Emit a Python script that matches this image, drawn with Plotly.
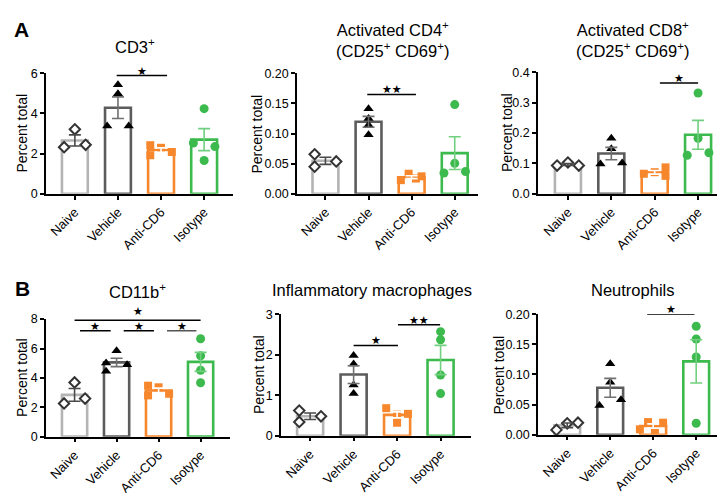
import numpy as np
import plotly.graph_objects as go

W, H = 725, 493
FONT = "Liberation Sans, Arial, sans-serif"

groups = ["Naive", "Vehicle", "Anti-CD6", "Isotype"]

# ---- data: individual animal values per group ----
cd3_naive = [2.32, 3.21, 2.44]
cd3_vehicle = [3.37, 5.43, 4.98, 3.37]
cd3_anti = [2.42, 1.92, 2.29, 2.08]
cd3_iso = [2.53, 4.24, 1.66, 2.35]

cd4_naive = [0.0656, 0.045, 0.0537]
cd4_vehicle = [0.141, 0.125, 0.114, 0.098]
cd4_anti = [0.0226, 0.0333, 0.0253, 0.029]
cd4_iso = [0.0344, 0.148, 0.0505, 0.037]

cd8_naive = [0.093, 0.103, 0.093]
cd8_vehicle = [0.098, 0.183, 0.148, 0.101]
cd8_anti = [0.066, 0.071, 0.087, 0.059]
cd8_iso = [0.127, 0.332, 0.183, 0.135]

cd11b_naive = [2.26, 3.69, 2.59]
cd11b_vehicle = [5.01, 4.46, 5.84, 4.90]
cd11b_anti = [3.47, 2.81, 3.36, 2.92]
cd11b_iso = [6.66, 5.51, 4.52, 3.67]

mac_naive = [0.62, 0.34, 0.48]
mac_vehicle = [1.98, 1.77, 1.25, 1.04]
mac_anti = [0.68, 0.52, 0.32, 0.54]
mac_iso = [2.57, 2.37, 1.50, 1.04]

neu_naive = [0.008, 0.019, 0.020]
neu_vehicle = [0.0486, 0.118, 0.087, 0.058]
neu_anti = [0.009, 0.021, 0.008, 0.020]
neu_iso = [0.180, 0.159, 0.129, 0.019]

titles = ["CD3<sup>+</sup>",
          "Activated CD4<sup>+</sup><br>(CD25<sup>+</sup> CD69<sup>+</sup>)",
          "Activated CD8<sup>+</sup><br>(CD25<sup>+</sup> CD69<sup>+</sup>)",
          "CD11b<sup>+</sup>", "Inflammatory macrophages", "Neutrophils"]

# significance comparisons: (from x, to x, y value, label)
sig_cd3 = [(0.97, 2.14, 5.89, "*")]
sig_cd4 = [(0.97, 2.1, 0.165, "**")]
sig_cd8 = [(2.12, 3.0, 0.365, "*")]
sig_cd11b = [(0.0, 3.0, 7.93, "*"), (0.13, 0.86, 7.2, "*"),
             (1.17, 1.89, 7.2, "*"), (2.2, 2.9, 7.2, "*")]
sig_mac = [(1.0, 2.02, 2.23, "*"), (2.02, 2.99, 2.74, "**")]
sig_neu = [(1.86, 2.96, 0.20, "*")]

# ---- layout / style constants ----
jit_L, jit_R = -0.25, 0.25
offsets = [
    [[jit_L, 0, jit_R], [jit_L, 0, 0, jit_R], [jit_L, jit_L, 0, jit_R], [jit_L, 0, 0, jit_R]],
    [[jit_L, jit_L, jit_R], [0, 0, 0, 0], [-0.25, -0.07, 0.1, 0.23], [jit_L, 0, 0, jit_R]],
    [[jit_L, 0, jit_R], [jit_L, 0, 0, jit_R], [jit_L, 0, jit_R, jit_R], [jit_L, 0, 0, jit_R]],
    [[jit_L, 0, jit_R], [jit_L, jit_L, 0, jit_R], [jit_L, jit_L, 0, jit_R], [0, 0, 0, 0]],
    [[jit_L, jit_L, jit_R], [0, 0, 0, 0], [jit_L, 0, 0, jit_R], [0, 0, 0, 0]],
    [[jit_L, 0, jit_R], [jit_L, 0, 0, jit_R], [-0.31, -0.12, 0.04, 0.23], [0, 0, 0, 0]],
]

panels = [
    dict(data=[cd3_naive, cd3_vehicle, cd3_anti, cd3_iso], sig=sig_cd3,
         xpx=(38, 225), xr=(-0.67, 3.67), ypx=(60, 184), yr=(0, 6), dt=2, fmt="d",
         tpos=(127, 32), ytx=14),
    dict(data=[cd4_naive, cd4_vehicle, cd4_anti, cd4_iso], sig=sig_cd4,
         xpx=(289, 470), xr=(-0.66, 3.54), ypx=(60, 184), yr=(0, 0.2), dt=0.05, fmt=".2f",
         tpos=(384, 25), ytx=249),
    dict(data=[cd8_naive, cd8_vehicle, cd8_anti, cd8_iso], sig=sig_cd8,
         xpx=(530, 720), xr=(-0.69, 3.69), ypx=(59, 184), yr=(0, 0.4), dt=0.1, fmt=".1f",
         tpos=(624, 25), ytx=499),
    dict(data=[cd11b_naive, cd11b_vehicle, cd11b_anti, cd11b_iso], sig=sig_cd11b,
         xpx=(38, 222), xr=(-0.68, 3.70), ypx=(313, 434), yr=(0, 8), dt=2, fmt="d",
         tpos=(129, 284), ytx=14),
    dict(data=[mac_naive, mac_vehicle, mac_anti, mac_iso], sig=sig_mac,
         xpx=(273, 463), xr=(-0.67, 3.70), ypx=(308, 433), yr=(0, 3), dt=1, fmt="d",
         tpos=(364, 283), ytx=251),
    dict(data=[neu_naive, neu_vehicle, neu_anti, neu_iso], sig=sig_neu,
         xpx=(530, 717), xr=(-0.68, 3.67), ypx=(308, 432), yr=(0, 0.2), dt=0.05, fmt=".2f",
         tpos=(624, 283), ytx=491),
]

bar_colors = ["#b4b4b4", "#5c5c5c", "#f7872c", "#3dba4e"]
err_colors = ["#4a4a4a", "#707070", "#ffffff", "#72cf7f"]
mk = [dict(symbol="diamond", size=8, color="white", line=dict(color="#333333", width=2)),
      dict(symbol="triangle-up", size=9, color="black", line=dict(width=0)),
      dict(symbol="square", size=8, color="#f7872c", line=dict(width=0)),
      dict(symbol="circle", size=9, color="#3dba4e", line=dict(width=0))]

fig = go.Figure()
layout = dict(width=W, height=H, margin=dict(l=0, r=0, t=0, b=0),
              paper_bgcolor="white", plot_bgcolor="white", showlegend=False,
              font=dict(family=FONT, color="black"))
annotations = []
shapes = []

for k, p in enumerate(panels):
    sfx = "" if k == 0 else str(k + 1)
    xa, ya = "x" + sfx, "y" + sfx
    means = [float(np.mean(v)) for v in p["data"]]
    sems = [float(np.std(v, ddof=1) / np.sqrt(len(v))) for v in p["data"]]
    fig.add_trace(go.Bar(x=[0, 1, 2, 3], y=means, width=0.6, xaxis=xa, yaxis=ya,
                         marker=dict(color="white", line=dict(color=bar_colors, width=2.6))))
    for g in range(4):
        vals = p["data"][g]
        xs = [g + o for o in offsets[k][g]]
        fig.add_trace(go.Scatter(x=xs, y=vals, mode="markers", marker=mk[g],
                                 cliponaxis=False, xaxis=xa, yaxis=ya))
    for g in range(4):
        fig.add_trace(go.Scatter(x=[g], y=[means[g]], mode="markers",
                                 marker=dict(size=1, color="rgba(0,0,0,0)"),
                                 error_y=dict(type="data", array=[sems[g]], visible=True,
                                              color=err_colors[g], thickness=1.6, width=6),
                                 cliponaxis=False, xaxis=xa, yaxis=ya))
    x0, x1 = p["xpx"]
    ytop, ybot = p["ypx"]
    ticks = list(np.arange(p["yr"][0], p["yr"][1] + p["dt"] / 2, p["dt"]))
    if p["fmt"] == "d":
        ttext = [f"{t:.0f}" for t in ticks]
    else:
        ttext = [format(t, p["fmt"]) for t in ticks]
    layout["xaxis" + sfx] = dict(domain=[x0 / W, x1 / W], range=list(p["xr"]),
                                 anchor=ya, tickmode="array", tickvals=[0, 1, 2, 3],
                                 ticktext=groups, tickangle=-45, showline=True,
                                 linecolor="black", linewidth=1.5, ticks="outside",
                                 ticklen=4, tickwidth=1.5, tickcolor="black",
                                 showgrid=False, zeroline=False,
                                 tickfont=dict(size=13, family=FONT, color="black"))
    layout["yaxis" + sfx] = dict(domain=[(H - ybot) / H, (H - ytop) / H], range=list(p["yr"]),
                                 anchor=xa, tickmode="array", tickvals=ticks, ticktext=ttext,
                                 showline=True, linecolor="black", linewidth=1.5,
                                 ticks="outside", ticklen=4, tickwidth=1.5, tickcolor="black",
                                 showgrid=False, zeroline=False,
                                 tickfont=dict(size=12.5, family=FONT, color="black"))
    annotations.append(dict(text=titles[k], x=p["tpos"][0] / W, y=(H - p["tpos"][1]) / H,
                            xref="paper", yref="paper", showarrow=False,
                            xanchor="center", yanchor="middle",
                            font=dict(size=16.5, family=FONT, color="black")))
    annotations.append(dict(text="Percent total", x=p["ytx"] / W,
                            y=(H - (ytop + ybot) / 2) / H, xref="paper", yref="paper",
                            showarrow=False, textangle=-90, xanchor="center", yanchor="middle",
                            font=dict(size=14, family=FONT, color="black")))
    for j, (a, b, yv, lab) in enumerate(p["sig"]):
        col = "#555555" if (k == 3 and a > 2) else "black"
        shapes.append(dict(type="line", xref=xa, yref=ya, x0=a, x1=b, y0=yv, y1=yv,
                           line=dict(color=col, width=1.5)))
        ys = 1 if (k == 3 and j == 0) else -3
        annotations.append(dict(text="★" * len(lab), x=(a + b) / 2, y=yv, xref=xa, yref=ya,
                                showarrow=False, yanchor="bottom", yshift=ys, borderpad=0,
                                font=dict(size=11, family="DejaVu Sans", color="black")))

annotations.append(dict(text="<b>A</b>", x=13 / W, y=(H - 15) / H, xref="paper", yref="paper",
                        showarrow=False, xanchor="center", yanchor="middle",
                        font=dict(size=21, family=FONT, color="black")))
annotations.append(dict(text="<b>B</b>", x=14 / W, y=(H - 282) / H, xref="paper", yref="paper",
                        showarrow=False, xanchor="center", yanchor="middle",
                        font=dict(size=21, family=FONT, color="black")))

layout["annotations"] = annotations
layout["shapes"] = shapes
fig.update_layout(**layout)
fig.write_html("out.html")
